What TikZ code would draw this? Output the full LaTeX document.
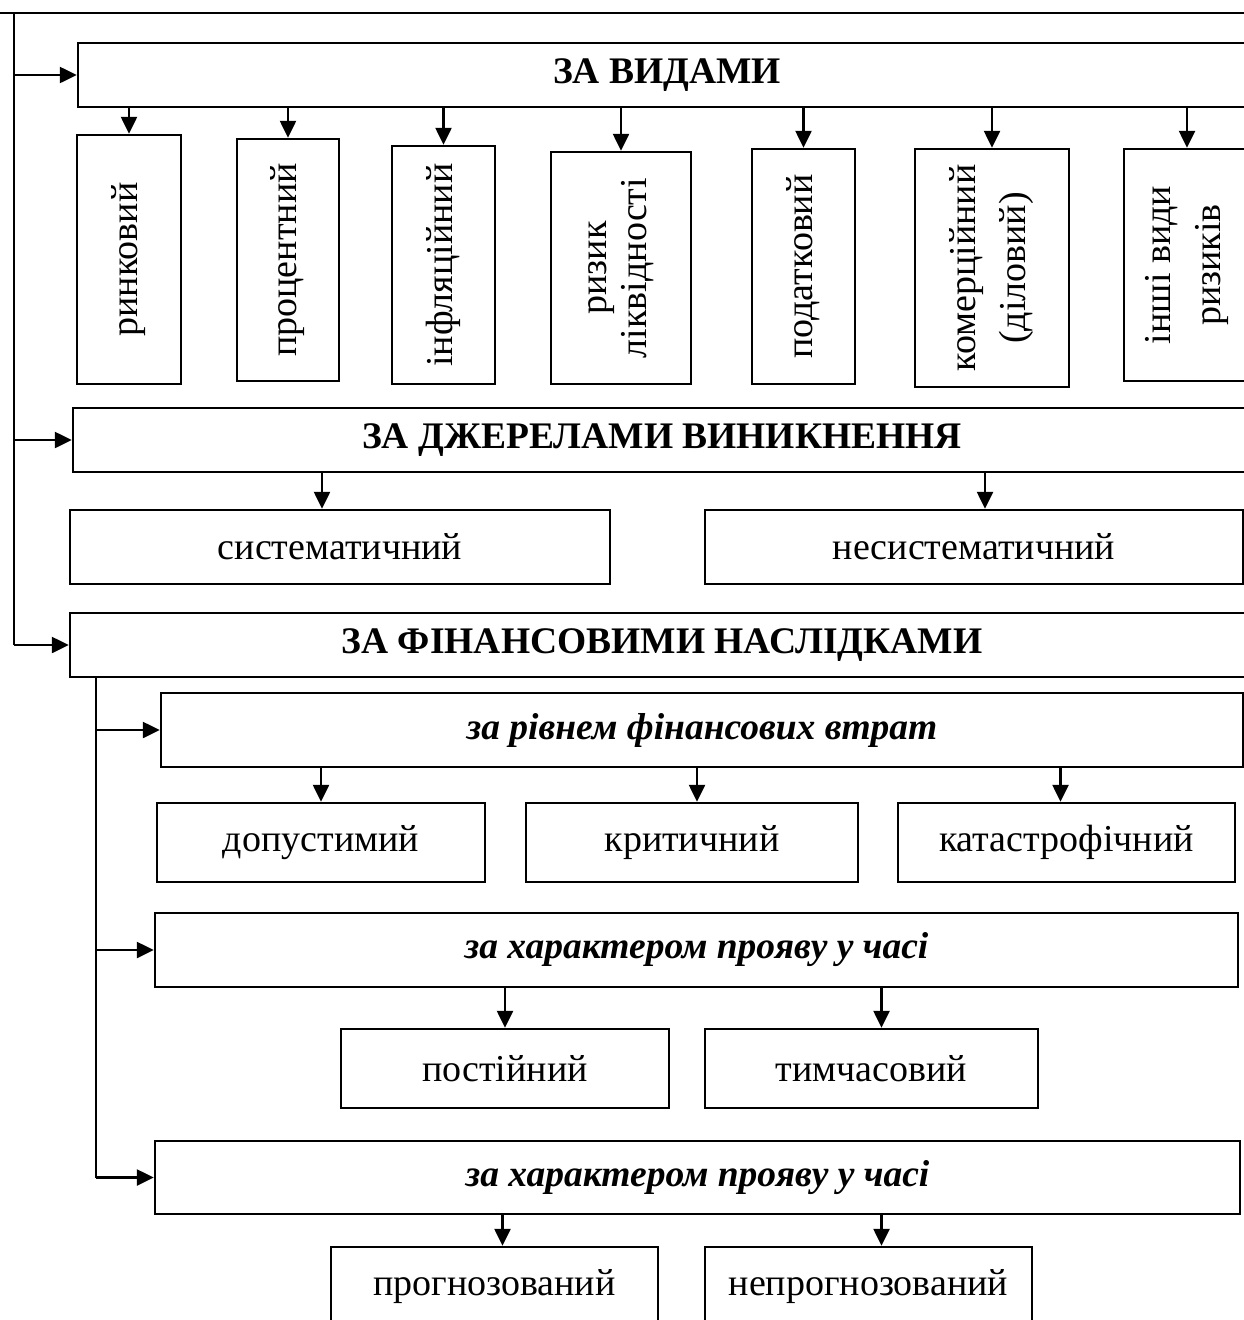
\documentclass[tikz,border=0pt]{standalone}
\usepackage{fontspec}
\setmainfont{Liberation Serif}
\usetikzlibrary{arrows.meta}
\begin{document}
\begin{tikzpicture}[x=1pt,y=-1pt,
  box/.style={draw,line width=2.4pt,inner sep=0pt,align=center,font=\fontsize{38}{40}\selectfont},
  head/.style={box,font=\fontsize{37.5}{40}\selectfont\bfseries},
  sub/.style={box,font=\fontsize{37.5}{40}\selectfont\bfseries\itshape},
  vbox/.style={box,rotate=90},
  arr/.style={line width=2.4pt,-{Triangle[length=17pt,width=16pt]}},
  ln/.style={line width=2.4pt}]
\useasboundingbox (0,0) rectangle (1244,1320);
\clip (0,0) rectangle (1244,1320);
% top level
\node[head,minimum width=1178,minimum height=64] (vyd) at (667,75) {ЗА ВИДАМИ};
\node[vbox,minimum width=249,minimum height=104] (rynk) at (129,259.5) {ринковий};
\node[vbox,minimum width=242,minimum height=102] (proc) at (288,260) {процентний};
\node[vbox,minimum width=238,minimum height=103] (infl) at (443.5,265) {інфляційний};
\node[vbox,minimum width=232,minimum height=140] (likv) at (621,268) {ризик\\ліквідності};
\node[vbox,minimum width=235,minimum height=103] (podat) at (803.5,266.5) {податковий};
\node[vbox,minimum width=238,minimum height=154,font=\fontsize{38}{50}\selectfont] (komer) at (992,268) {комерційний\\(діловий)};
\node[vbox,minimum width=232,minimum height=126,font=\fontsize{38}{50}\selectfont] (inshi) at (1187,265) {інші види\\ризиків};

\node[head,minimum width=1178,minimum height=64] (dzh) at (662,440) {ЗА ДЖЕРЕЛАМИ ВИНИКНЕННЯ};
\node[box,minimum width=540,minimum height=74] (syst) at (340,547) {систематичний};
\node[box,minimum width=538,minimum height=74] (nesyst) at (974,547) {несистематичний};

\node[head,minimum width=1184,minimum height=64] (fin) at (662,645) {ЗА ФІНАНСОВИМИ НАСЛІДКАМИ};
\node[sub,minimum width=1082,minimum height=74] (rivn) at (702,730) {за рівнем фінансових втрат};
\node[box,minimum width=328,minimum height=79] (dop) at (321,842.5) {допустимий};
\node[box,minimum width=332,minimum height=79] (krit) at (692,842.5) {критичний};
\node[box,minimum width=337,minimum height=79] (kat) at (1066.5,842.5) {катастрофічний};
\node[sub,minimum width=1083,minimum height=74] (char1) at (696.5,950) {за характером прояву у часі};
\node[box,minimum width=328,minimum height=79] (post) at (505,1068.5) {постійний};
\node[box,minimum width=333,minimum height=79] (tymch) at (871.5,1068.5) {тимчасовий};
\node[sub,minimum width=1085,minimum height=73] (char2) at (697.5,1177.5) {за характером прояву у часі};
\node[box,minimum width=327,minimum height=79] (prog) at (494.5,1286.5) {прогнозований};
\node[box,minimum width=327,minimum height=79] (neprog) at (868.5,1286.5) {непрогнозований};

% main spine
\coordinate (T0) at (0,13);
\coordinate (T1) at (1244,13);
\coordinate (L0) at (14,13);
\draw[ln] (T0) -- (T1);
\draw[ln] (L0) -- (L0 |- fin.west);
\draw[arr] (L0 |- vyd.west) -- (vyd.west);
\draw[arr] (L0 |- dzh.west) -- (dzh.west);
\draw[arr] (L0 |- fin.west) -- (fin.west);

% types
\foreach \n in {rynk,proc,infl,likv,podat,komer,inshi}
  \draw[arr] (\n.east |- vyd.south) -- (\n.east);

% sources
\draw[arr] ([xshift=-18pt]syst.north |- dzh.south) -- ([xshift=-18pt]syst.north);
\draw[arr] ([xshift=11pt]nesyst.north |- dzh.south) -- ([xshift=11pt]nesyst.north);

% financial consequences
\coordinate (B) at (96,1177.5);
\draw[ln] (B |- fin.south) -- (B);
\draw[arr] (B |- rivn.west) -- (rivn.west);
\draw[arr] (B |- char1.west) -- (char1.west);
\draw[arr] (B) -- (char2.west);

\draw[arr] (dop.north |- rivn.south) -- (dop.north);
\draw[arr] ([xshift=5pt]krit.north |- rivn.south) -- ([xshift=5pt]krit.north);
\draw[arr] ([xshift=-6pt]kat.north |- rivn.south) -- ([xshift=-6pt]kat.north);

\draw[arr] (post.north |- char1.south) -- (post.north);
\draw[arr] ([xshift=10pt]tymch.north |- char1.south) -- ([xshift=10pt]tymch.north);

\draw[arr] ([xshift=8pt]prog.north |- char2.south) -- ([xshift=8pt]prog.north);
\draw[arr] ([xshift=13pt]neprog.north |- char2.south) -- ([xshift=13pt]neprog.north);
\end{tikzpicture}
\end{document}
